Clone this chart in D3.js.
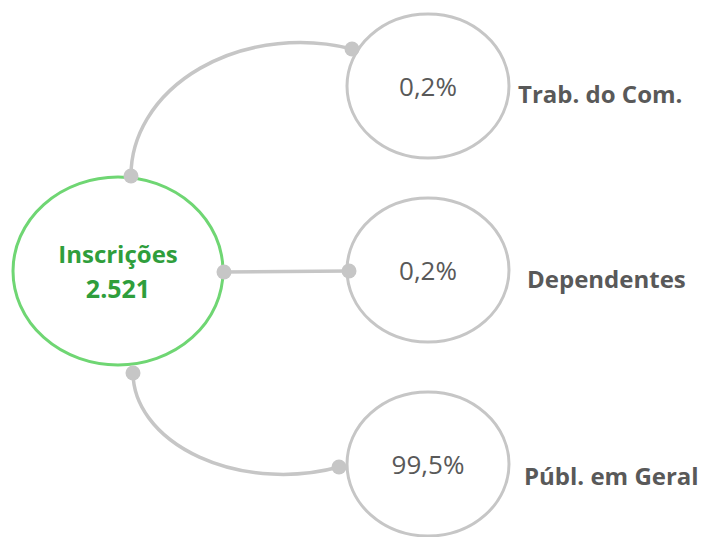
<!DOCTYPE html>
<html>
<head>
<meta charset="utf-8">
<script src="https://cdn.jsdelivr.net/npm/d3@7"></script>
<style>
  html, body { margin: 0; padding: 0; background: #fff; }
  svg { display: block; font-family: "Open Sans", sans-serif; }
</style>
</head>
<body>
<svg id="chart" width="705" height="537"></svg>
<script>
// data
const hubLabel = 'Inscrições';
const hubTotal = 2521;
const categories = ['Trab. do Com.', 'Dependentes', 'Públ. em Geral'];
const shares = [0.2, 0.2, 99.5];

const ptBR = d3.formatLocale({ decimal: ',', thousands: '.', grouping: [3], currency: ['R$', ''] });
const fmtTotal = ptBR.format(',d');
const fmtShare = ptBR.format('.1f');

const svg = d3.select('#chart');

// layout
const hub = { cx: 118, cy: 271, rx: 105, ry: 94 };
const nodeX = 428, nodeRx = 81, nodeRy = 72;
const y = d3.scaleOrdinal().domain(categories).range([86, 270, 464]);

// connector geometry per category (start on hub, end on node, arc radii)
const links = [
  { from: [131, 176], to: [352, 49], r: [169, 133], sweep: 1 },
  { from: [224, 272], to: [349, 271], r: null },
  { from: [133, 373], to: [339, 467], r: [150, 102], sweep: 0 }
];

const grey = '#c6c6c6';

const g = svg.append('g');

g.selectAll('path.link')
  .data(links)
  .join('path')
  .attr('class', 'link')
  .attr('fill', 'none')
  .attr('stroke', grey)
  .attr('stroke-width', 3.5)
  .attr('d', d => d.r
    ? `M${d.from[0]},${d.from[1]} A${d.r[0]},${d.r[1]} 0 0 ${d.sweep} ${d.to[0]},${d.to[1]}`
    : `M${d.from[0]},${d.from[1]} L${d.to[0]},${d.to[1]}`);

// hub
g.append('ellipse')
  .attr('cx', hub.cx).attr('cy', hub.cy)
  .attr('rx', hub.rx).attr('ry', hub.ry)
  .attr('fill', '#fff')
  .attr('stroke', '#6fd673')
  .attr('stroke-width', 3);

g.append('text')
  .attr('x', hub.cx).attr('y', 263)
  .attr('text-anchor', 'middle')
  .attr('fill', '#2f9e3c')
  .attr('font-weight', 700)
  .attr('font-size', 24)
  .text(hubLabel);

g.append('text')
  .attr('x', hub.cx).attr('y', 298)
  .attr('text-anchor', 'middle')
  .attr('fill', '#2f9e3c')
  .attr('font-weight', 700)
  .attr('font-size', 25)
  .text(fmtTotal(hubTotal));

// nodes
const nodes = g.selectAll('g.node')
  .data(categories.map((c, i) => ({ cat: c, share: shares[i] })))
  .join('g')
  .attr('class', 'node')
  .attr('transform', d => `translate(${nodeX},${y(d.cat)})`);

nodes.append('ellipse')
  .attr('rx', nodeRx).attr('ry', nodeRy)
  .attr('fill', '#fff')
  .attr('stroke', grey)
  .attr('stroke-width', 3);

nodes.append('text')
  .attr('y', 10)
  .attr('text-anchor', 'middle')
  .attr('fill', '#595959')
  .attr('font-size', 26)
  .text(d => fmtShare(d.share) + '%');

const labelX = [518, 527, 524];
const labelDy = [17, 18, 21];
nodes.append('text')
  .attr('x', (d, i) => labelX[i] - nodeX)
  .attr('y', (d, i) => labelDy[i])
  .attr('fill', '#595959')
  .attr('font-weight', 700)
  .attr('font-size', 24)
  .text(d => d.cat);

// dots on connector ends
const ends = links.flatMap(d => [d.from, d.to]);
g.selectAll('circle.dot')
  .data(ends)
  .join('circle')
  .attr('class', 'dot')
  .attr('cx', d => d[0]).attr('cy', d => d[1])
  .attr('r', 7.5)
  .attr('fill', grey);
</script>
</body>
</html>
